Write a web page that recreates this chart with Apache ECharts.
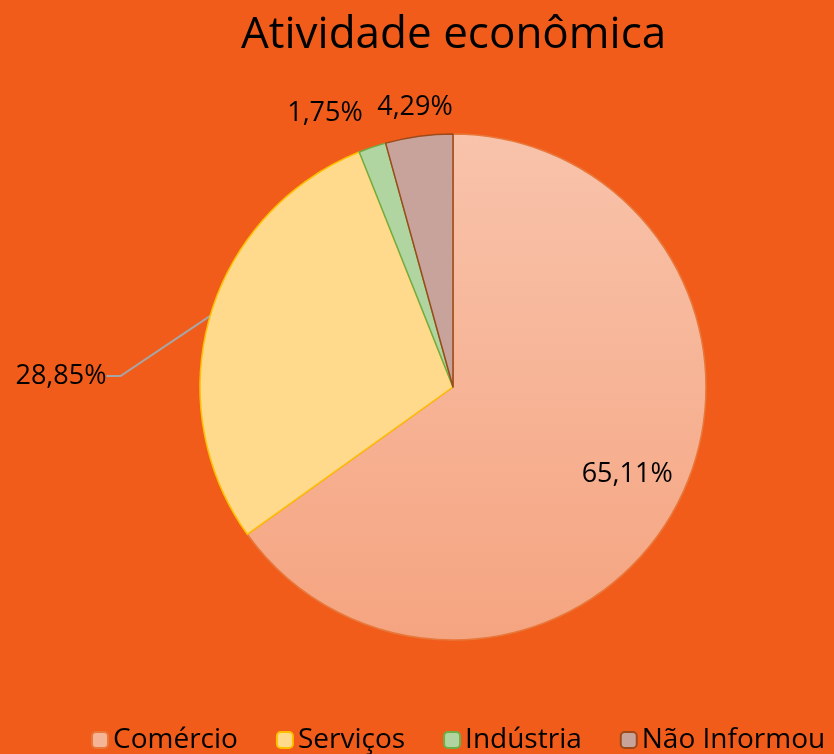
<!DOCTYPE html>
<html><head><meta charset="utf-8">
<script src="https://cdn.jsdelivr.net/npm/echarts@6/dist/echarts.min.js"></script>
<style>html,body{margin:0;padding:0;background:#F15C1B;}#c{width:834px;height:754px;}</style>
</head><body><div id="c"></div>
<script>
const categories = ['Comércio', 'Serviços', 'Indústria', 'Não Informou'];
const values = [65.11, 28.85, 1.75, 4.29];
const labels = ['65,11%', '28,85%', '1,75%', '4,29%'];

const fills = [
  {type:'linear', x:0, y:0, x2:0, y2:1, colorStops:[{offset:0,color:'#F8C3AB'},{offset:1,color:'#F5A480'}]},
  '#FFD98C', '#B0D5A0', '#C8A39C'
];
const borders = ['#E8783A', '#FFC000', '#70AD47', '#9C4A1A'];
const legendIcons = ['#F6B497', '#FFD98C', '#B0D5A0', '#C8A39C'];

const chart = echarts.init(document.getElementById('c'));
const FONT = 'Open Sans';
chart.setOption({
  backgroundColor: '#F15C1B',
  title: {text: 'Atividade econômica', left: 236, top: 8,
    textStyle: {fontFamily: FONT, fontSize: 44, fontWeight: 'normal', color: '#000'}},
  legend: {top: 721, left: 86, itemWidth: 16, itemHeight: 16, itemGap: 38,
    textStyle: {fontFamily: FONT, fontSize: 28, color: '#000'},
    data: categories.map((c, i) => ({name: c, itemStyle: {color: legendIcons[i], borderColor: borders[i], borderWidth: 2}}))
  },
  series: [{
    type: 'pie', center: [453, 387], radius: 253, startAngle: 90, clockwise: true,
    avoidLabelOverlap: false,
    label: {fontFamily: FONT, fontSize: 27, color: '#000'},
    labelLine: {lineStyle: {color: '#A6A6A6', width: 2}},
    data: categories.map((c, i) => {
      const d = {name: c, value: values[i],
        itemStyle: {color: fills[i], borderColor: borders[i], borderWidth: 1.5},
        label: {formatter: labels[i]}};
      if (i === 0) { d.label.position = 'inside'; d.label.offset = [59, 28]; }
      else if (i === 1) { d.label.position = 'outside'; d.labelLine = {show: true, length: 0, length2: 14}; }
      else { d.label.position = 'outside'; d.labelLine = {show: false}; }
      return d;
    }),
    labelLayout: function (p) {
      if (p.dataIndex === 1) return {x: 61, y: 376, align: 'center', verticalAlign: 'middle'};
      if (p.dataIndex === 2) return {x: 325, y: 113, align: 'center', verticalAlign: 'middle'};
      if (p.dataIndex === 3) return {x: 415, y: 107, align: 'center', verticalAlign: 'middle'};
      return {};
    }
  }]
});
</script></body></html>
